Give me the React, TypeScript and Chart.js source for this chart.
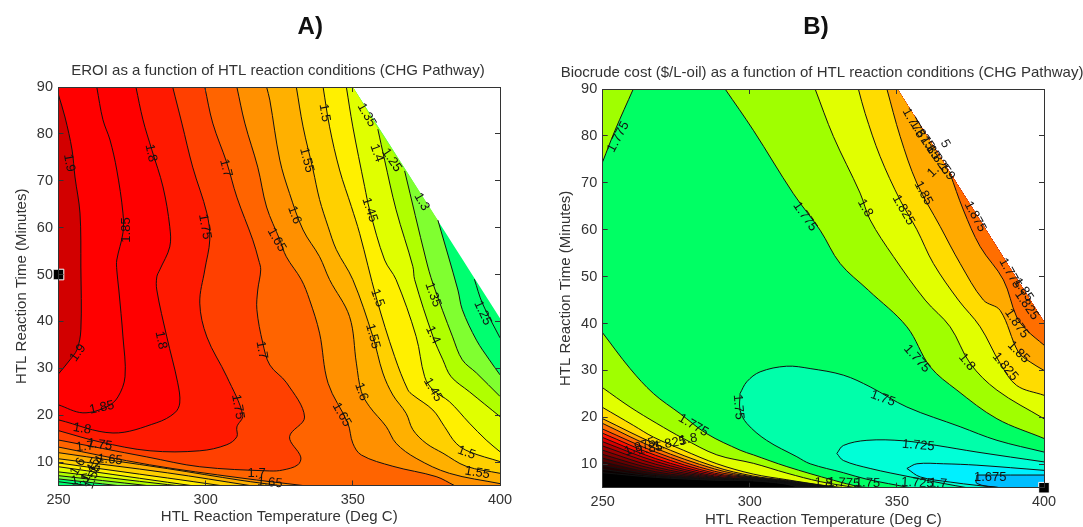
import React, { useEffect, useRef } from "react";
import { Chart, registerables } from "chart.js";

Chart.register(...registerables);

type P = number[];
type Label = [string, number, number, number];

const X_TICKS = [250, 300, 350, 400];
const Y_TICKS = [10, 20, 30, 40, 50, 60, 70, 80, 90];
const X_TITLE = "HTL Reaction Temperature (Deg C)";
const Y_TITLE = "HTL Reaction Time (Minutes)";

/* ---------- Panel A: EROI ---------- */
const A_DOMAIN: P[] = [[250, 90], [350, 90], [400, 40.7], [400, 5], [250, 5]];

const A_190: P[] = [[250, 88.3], [252.2, 83.6], [254.6, 76.6], [255.6, 70.8], [257.3, 63.1], [257.6, 51.6], [257.6, 38.2], [256.3, 34], [253.9, 31.8], [250, 28.8]];
const A_185: P[] = [[263, 90], [265.1, 83], [267.5, 78.7], [269.8, 72.3], [271.9, 63.1], [271.9, 58.9], [269.8, 53.1], [269.8, 51], [270.5, 46.7], [271.9, 36.7], [272.6, 28.2], [270.2, 23.9], [266.5, 21.8], [258.3, 20.5], [250, 22.2]];
const A_180: P[] = [[276.3, 90], [278.7, 83], [281.7, 76.6], [285.5, 68.7], [287.8, 60.2], [287.8, 55.9], [284.4, 51], [283.4, 49.5], [283.4, 46.7], [286.8, 36.7], [290.5, 26.9], [291.2, 22.6], [289.5, 20.5], [283.4, 18.4], [268.5, 16.2], [250, 19]];
const A_175: P[] = [[288.8, 90], [291.9, 82.3], [295.6, 72.9], [300.4, 63.1], [301.4, 57.4], [299.7, 51], [298, 43.9], [300.4, 36.7], [307.2, 28.2], [312.6, 20], [310.6, 17.5], [310.6, 15.4], [307.2, 13.7], [298, 12.4], [281.1, 12.4], [264, 14.3], [250, 16.7]];
const A_170: P[] = [[299.7, 90], [302.4, 82.3], [307.2, 73.8], [310.6, 66.5], [316, 57.4], [318, 53.1], [318.7, 51], [317.7, 46.7], [317.4, 42.5], [319.4, 35.4], [321.8, 30.7], [327.5, 26.9], [333.6, 19.6], [328.5, 15.4], [332.3, 11.1], [331.3, 9.4], [326.2, 8.3], [321.8, 8.1], [298, 9], [280, 11.1], [250, 14.7]];
const A_165: P[] = [[310.6, 90], [313.3, 82.3], [317.7, 72.9], [320.7, 64.4], [325.2, 57.4], [327.4, 53.8], [332.5, 48.9], [335.3, 44.6], [338.7, 37.5], [341.6, 26.8], [348.3, 18.3], [350, 14], [352.9, 11.5], [363.6, 9.1], [378.3, 6.9], [384.5, 5]];
const A_160: P[] = [[320.7, 90], [321.8, 87.2], [325.2, 74.4], [328.5, 67.3], [333.1, 59.5], [338.7, 53.8], [342.1, 48.9], [348.9, 41], [351.2, 31.1], [352.9, 25], [355.7, 21.8], [361.3, 17.6], [364.7, 14], [371.5, 10.8], [382.8, 7.6], [400, 5.4]];
const A_155: P[] = [[330.8, 90], [333.1, 81.5], [336.5, 72.3], [338.7, 66], [341.6, 60.2], [344.4, 55.3], [350, 48.9], [356.8, 36.8], [360.2, 29], [363.6, 24.3], [368.1, 20.4], [370.4, 16.9], [374.9, 14], [380.6, 11.9], [388.5, 9.1], [400, 7.6]];
const A_150: P[] = [[339.9, 90], [342.1, 81.5], [345.5, 72.3], [349.5, 64.5], [352.3, 58.8], [358, 45], [364.2, 32.5], [368.7, 25.4], [370.4, 24.3], [377.2, 21.1], [381.1, 17.6], [385.1, 14], [389.6, 12.2], [400, 10.1]];
const A_145: P[] = [[347.8, 90], [350, 81.5], [354, 68.8], [355.7, 63.8], [360.8, 53.1], [364.7, 48.9], [371.5, 36.8], [374.4, 28.2], [377.2, 25.4], [382.8, 22.9], [389.6, 18.3], [395.3, 14.7], [400, 12.2]];
const A_140: P[] = [[358.5, 81], [360.8, 74.4], [364.7, 63.8], [370.4, 51.7], [371, 48.9], [377.2, 36.8], [380.6, 31.8], [383.4, 28.2], [389.6, 25], [400, 19.7]];
const A_135: P[] = [[367.6, 72.1], [374.9, 53.1], [377.2, 48.1], [383.9, 36.7], [387.2, 31.8], [392, 29], [400, 24]];
const A_130: P[] = [[378.9, 61.6], [385.7, 46.7], [387.2, 42.5], [392, 36], [396.4, 31.8], [400, 28.6]];
const A_125: P[] = [[391.3, 49], [394, 43.9], [400, 36.5]];

const A_165_LOW: P[] = [[250, 13.2], [281, 9.4], [312, 6.6], [333, 5]];
const A_160_LOW: P[] = [[250, 12], [287, 8.6], [312, 6.1], [325, 5]];
const A_155_LOW: P[] = [[250, 10.7], [287, 7.7], [315, 5]];
const A_150_LOW: P[] = [[250, 9.8], [287, 6.6], [305, 5]];
const A_145_LOW: P[] = [[250, 9], [287, 5.7], [295, 5]];
const A_140_LOW: P[] = [[250, 7.9], [287, 5.2], [290, 5]];
const A_135_LOW: P[] = [[250, 7.1], [280, 5]];
const A_130_LOW: P[] = [[250, 6.4], [270, 5]];
const A_125_LOW: P[] = [[250, 5.8], [260, 5]];

const A_LABELS: Label[] = [
  ["1.9", 253.6, 73.8, 80], ["1.85", 273.2, 59.5, -90], ["1.8", 281.4, 75.9, 78], ["1.7", 306.8, 72.7, 75],
  ["1.75", 299.7, 60.2, 80], ["1.65", 324.1, 57.4, 60], ["1.6", 330.2, 62.7, 70], ["1.55", 334.3, 74.4, 75],
  ["1.5", 340.4, 84.5, 80], ["1.35", 354.7, 84, 60], ["1.4", 358.1, 75.9, 70], ["1.25", 363.2, 74.4, 55],
  ["1.3", 373.4, 65.5, 60], ["1.45", 355.7, 63.8, 72], ["1.9", 256.6, 33.3, -55], ["1.85", 264.7, 21.6, -12],
  ["1.8", 284.8, 36, 78], ["1.8", 258, 17.1, 10], ["1.75", 310.9, 21.8, 80], ["1.7", 319, 33.9, 80],
  ["1.75", 264, 13.7, 8], ["1.7", 259, 13.3, -5], ["1.7", 317.3, 7.5, 0], ["1.65", 321.8, 5.6, 5],
  ["1.65", 346.2, 20.1, 60], ["1.6", 352.9, 25, 70], ["1.55", 356.8, 36.8, 75], ["1.5", 358.4, 45, 70],
  ["1.45", 377.2, 25.4, 60], ["1.4", 377.2, 37.1, 65], ["1.35", 377.2, 45.7, 70], ["1.25", 394.1, 41.8, 65],
  ["1.5", 388.6, 12, 20], ["1.55", 392.3, 7.7, 10], ["1.65", 267.5, 10.5, 5], ["1.6", 256.6, 9, -60],
  ["1.55", 261.7, 6.9, -70], ["1.5", 257.3, 6.2, -10], ["1.45", 260.9, 8.3, -60], ["1.4", 263, 9.4, -60],
];

/* ---------- Panel B: biocrude cost ---------- */
const B_DOMAIN: P[] = [[250, 90], [350.2, 90], [400, 40.4], [400, 5], [250, 5]];
const B_DIAG: P[] = [[350.2, 90], [400, 40.4]];

const B_1775_CORNER: P[] = [[250, 74.5], [254.2, 81.2], [260.4, 90]];
const B_1775: P[] = [[291.6, 90], [301.2, 81.2], [314.8, 67.7], [323.9, 59.9], [330.7, 52.8], [340.3, 47.1], [353.4, 39.3], [361.3, 30.8], [370.4, 25.8], [384, 19.7], [400, 15.5]];
const B_1800: P[] = [[322.2, 90], [328.4, 79.9], [337.5, 67.8], [340.9, 62.1], [348.8, 54.3], [359.6, 45], [368.1, 39.3], [374.9, 31.5], [384, 25.8], [400, 19.7]];
const B_1825: P[] = [[336.9, 90], [339.2, 84.8], [344.3, 75.6], [351.1, 66.3], [356.8, 60], [362.4, 52.8], [370.9, 45], [378.3, 39.3], [385.1, 31.5], [390.7, 26.8], [400, 24.7]];
const B_1850: P[] = [[346.6, 90], [351.1, 79.9], [356.8, 69.9], [364.7, 60.7], [371.5, 52.8], [379.4, 45], [385.1, 42.8], [391.3, 33.9], [395.3, 31.8], [400, 30]];
const B_1875: P[] = [[368, 72.1], [372.6, 64.2], [378.3, 56.4], [386.2, 49.3], [390.7, 41.4], [394.1, 38.6], [400, 35.4]];

const B_1775_LOW: P[] = [[250, 38], [259.3, 30.4], [267.2, 25.1], [276.3, 20.8], [285.4, 16.5], [296.7, 13], [301.2, 12], [312.6, 9.5], [328.4, 6.6], [337.5, 5.2], [342, 5]];
const B_1800_LOW: P[] = [[250, 26.3], [259.3, 22.2], [268.4, 18.7], [277.4, 15.5], [288.8, 12], [301.2, 10.2], [312.6, 8.1], [323.9, 6.3], [336, 5]];
const B_1825_LOW: P[] = [[250, 22.1], [260.4, 18.3], [267.2, 15.8], [277.4, 13], [288.8, 10.1], [301.2, 7.9], [312.6, 6.7], [325, 5.5], [332, 5]];
const B_1850_LOW: P[] = [[250, 19.7], [268, 14.3], [288, 9.5], [301, 7.5], [312, 6.6], [330, 5]];
const B_1875_LOW: P[] = [[250, 18.7], [268, 13.4], [288, 9], [301, 7.3], [312, 6.5], [329, 5]];
const B_1900_LOW: P[] = [[250, 17.5], [268, 12.6], [288, 8.5], [301, 7.2], [312, 6.4], [328, 5]];
const B_1925_LOW: P[] = [[250, 16.6], [268, 11.9], [288, 8.1], [301, 7.1], [312, 6.3], [327, 5]];
const B_1950_LOW: P[] = [[250, 15.7], [268, 11.2], [288, 7.8], [301, 7], [312, 6.25], [326, 5]];
const B_1975_LOW: P[] = [[250, 14.8], [268, 10.6], [288, 7.5], [301, 6.9], [312, 6.2], [325, 5]];
const B_2000_LOW: P[] = [[250, 13.9], [268, 10], [288, 7.3], [301, 6.8], [312, 6.15], [324, 5]];
const B_2025_LOW: P[] = [[250, 13], [268, 9.4], [288, 7.15], [301, 6.75], [312, 6.1], [323, 5]];
const B_2050_LOW: P[] = [[250, 12.1], [268, 8.9], [288, 7], [301, 6.7], [312, 6.05], [322, 5]];
const B_2075_LOW: P[] = [[250, 11.3], [268, 8.4], [288, 6.9], [301, 6.65], [312, 6], [321, 5]];
const B_2100_LOW: P[] = [[250, 10.5], [268, 8], [288, 6.8], [301, 6.6], [312, 5.95], [320, 5]];
const B_2125_LOW: P[] = [[250, 9.7], [268, 7.7], [288, 6.7], [301, 6.55], [312, 5.9], [319, 5]];
const B_2150_LOW: P[] = [[250, 8.9], [268, 7.4], [288, 6.65], [301, 6.5], [312, 5.85], [318, 5]];
const B_2175_LOW: P[] = [[250, 8.2], [268, 7.2], [288, 6.6], [301, 6.45], [312, 5.8], [317, 5]];

const B_1750: P[] = [[296.7, 25.1], [299, 27.6], [303.5, 29.7], [312.5, 30.9], [320.5, 30.4], [331.8, 29], [340.9, 26.5], [353.4, 22.2], [371.5, 18], [384, 15.1], [400, 12.6]];
const B_1750_LOW: P[] = [[296.7, 25.1], [296.7, 21.5], [299, 18.7], [305.7, 15.1], [316, 11.6], [320.5, 10.1], [331.8, 8.2], [339.8, 6.8], [354.5, 5]];
const B_1725: P[] = [[329.6, 12.3], [331.8, 14], [339.8, 15.1], [352.2, 15], [363.6, 14], [377.2, 12.6], [400, 10.5]];
const B_1725_LOW: P[] = [[329.6, 12.3], [331.8, 10.8], [340.9, 9.1], [354.5, 7.3], [365.8, 5.9], [373.8, 5]];
const B_1700: P[] = [[353.4, 9.1], [356.8, 10.1], [365.8, 10.1], [377.2, 9.8], [400, 8.7]];
const B_1700_LOW: P[] = [[353.4, 9.1], [357.9, 7.3], [368.1, 6.2], [377.2, 5.5], [385.1, 5]];
const B_1675: P[] = [[377.2, 7.7], [400, 7.7]];
const B_1675_LOW: P[] = [[377.2, 7.7], [377.2, 5.9], [385.1, 5]];

const B_LABELS: Label[] = [
  ["1.775", 255.3, 79.8, -62], ["1.775", 318.8, 62.8, 55], ["1.8", 339.2, 64.6, 60], ["1.825", 352.2, 64.2, 60],
  ["1.85", 359, 67.8, 62], ["1.875", 376.6, 62.8, 62], ["1.775", 355.6, 82.7, 60], ["1.875", 358.5, 80.2, 55],
  ["1.85", 361.3, 77.4, 55], ["1.825", 364.1, 74.9, 55], ["1.9", 367, 72.4, 55], ["5", 366.4, 78.3, 60],
  ["1.", 362.4, 72.4, -45], ["1.775", 388.5, 50.7, 60], ["1.85", 393, 47.2, 55], ["1.825", 394.1, 43.9, 55],
  ["1.875", 390.7, 40, 55], ["1.85", 391.3, 33.9, 45], ["1.825", 386.8, 30.8, 50], ["1.8", 373.8, 31.8, 50],
  ["1.775", 356.8, 32.5, 48], ["1.75", 345.2, 24, 20], ["1.725", 357.3, 14, 5], ["1.675", 381.7, 7.1, 0],
  ["1.75", 296.1, 22.2, 85], ["1.775", 280.8, 18.3, 30], ["1.8", 279.1, 15.3, -10], ["1.825", 272.9, 14.4, -10],
  ["1.85", 266.1, 13.3, -10], ["1.875", 262.7, 13.7, -20], ["1.725", 357, 6, 3], ["1.7", 364, 5.9, 3],
  ["1.75", 340, 6, 3], ["1.775", 332, 6, 3], ["1.8", 325, 6, 3],
];

type Band = { line: P[]; low?: P[]; color: string; cornerTR?: P[] };

const TL: P = [250, 90];
const BR: P = [400, 5];
const TENSION = 0.35;
const rev = (a: P[]) => [...a].reverse();
const pts = (a: P[]) => a.map(([x, y]) => ({ x, y }));
/* doubling a run's end points keeps the joins between runs straight, so a fill follows its stroke */
const run = (a: P[]) => [a[0], ...a, a[a.length - 1]];

const A_BANDS: Band[] = [
  { line: A_130, low: A_130_LOW, color: "rgb(128,255,48)", cornerTR: [[350, 90]] },
  { line: A_135, low: A_135_LOW, color: "rgb(176,255,0)", cornerTR: [[350, 90]] },
  { line: A_140, low: A_140_LOW, color: "rgb(224,255,0)", cornerTR: [[350, 90]] },
  { line: A_145, low: A_145_LOW, color: "rgb(255,240,0)" },
  { line: A_150, low: A_150_LOW, color: "rgb(255,208,0)" },
  { line: A_155, low: A_155_LOW, color: "rgb(255,176,0)" },
  { line: A_160, low: A_160_LOW, color: "rgb(255,144,0)" },
  { line: A_165, low: A_165_LOW, color: "rgb(255,100,0)" },
  { line: A_170, color: "rgb(255,64,0)" },
  { line: A_175, color: "rgb(255,25,0)" },
  { line: A_180, color: "rgb(255,0,0)" },
  { line: A_185, color: "rgb(255,0,0)" },
  { line: A_190, color: "rgb(210,0,0)" },
];

const lineDs = (a: P[]) => ({
  data: pts(a), borderColor: "#111", borderWidth: 1, pointRadius: 0, fill: false, tension: TENSION,
});
const fillDs = (a: P[], color: string) => ({
  data: pts(a), borderWidth: 0, borderColor: color, backgroundColor: color, pointRadius: 0, fill: "shape", tension: TENSION,
});
const markerDs = (p: P) => ({
  data: pts([p]), showLine: false, pointStyle: "rect", pointRadius: 7.5, pointBackgroundColor: "#000",
  pointBorderColor: "#fff", pointBorderWidth: 1, clip: false,
});

function datasetsA() {
  const list: any[] = [fillDs(A_DOMAIN.flatMap((c) => [c, c]), "rgb(0,255,112)")];
  A_BANDS.forEach((b) => {
    const poly = [
      TL, TL,
      ...(b.cornerTR ? run(b.cornerTR) : []),
      ...run(b.line),
      ...(b.low ? [BR, BR, ...run(rev(b.low))] : []),
    ];
    list.push(fillDs(poly, b.color));
  });
  A_BANDS.forEach((b) => {
    list.push(lineDs(b.line));
    if (b.low) list.push(lineDs(b.low));
  });
  list.push(lineDs(A_125), lineDs(A_125_LOW));
  list.push(markerDs([250, 50]));
  return list.reverse();
}

function datasetsB() {
  const list: any[] = [fillDs(B_DOMAIN.flatMap((c) => [c, c]), "rgb(0,0,0)")];
  const lows: [P[], string][] = [
    [B_2175_LOW, "rgb(10,0,0)"], [B_2150_LOW, "rgb(30,0,0)"], [B_2125_LOW, "rgb(55,0,0)"], [B_2100_LOW, "rgb(80,0,0)"],
    [B_2075_LOW, "rgb(105,0,0)"], [B_2050_LOW, "rgb(130,0,0)"], [B_2025_LOW, "rgb(155,0,0)"], [B_2000_LOW, "rgb(180,0,0)"],
    [B_1975_LOW, "rgb(215,0,0)"], [B_1950_LOW, "rgb(255,15,0)"], [B_1925_LOW, "rgb(255,60,0)"], [B_1900_LOW, "rgb(255,110,0)"],
  ];
  lows.forEach(([low, c]) => list.push(fillDs([TL, TL, ...run([B_DIAG[0]]), ...run([B_DIAG[1]]), BR, BR, ...run(rev(low))], c)));
  const band = (head: P[], line: P[], low: P[], c: string) =>
    list.push(fillDs([...head, ...run(line), BR, BR, ...run(rev(low))], c));
  band([TL, TL, B_DIAG[0], B_DIAG[0]], B_1875, B_1875_LOW, "rgb(255,170,0)");
  band([TL, TL], B_1850, B_1850_LOW, "rgb(255,220,0)");
  band([TL, TL], B_1825, B_1825_LOW, "rgb(225,255,0)");
  band([TL, TL], B_1800, B_1800_LOW, "rgb(160,255,0)");
  band(run(B_1775_CORNER), B_1775, B_1775_LOW, "rgb(0,255,100)");
  band([], B_1750, B_1750_LOW, "rgb(0,255,170)");
  band([], B_1725, B_1725_LOW, "rgb(0,255,215)");
  band([], B_1700, B_1700_LOW, "rgb(0,240,255)");
  band([], B_1675, B_1675_LOW, "rgb(0,190,255)");
  [B_1775_CORNER, B_1775, B_1800, B_1825, B_1850, B_1875, B_1750, B_1725, B_1700, B_1675,
    B_1750_LOW, B_1725_LOW, B_1700_LOW, B_1675_LOW, B_1775_LOW, B_1800_LOW, B_1825_LOW, B_1850_LOW, B_1875_LOW,
    B_1900_LOW, B_1925_LOW, B_1950_LOW, B_1975_LOW, B_2000_LOW, B_2025_LOW, B_2050_LOW, B_2075_LOW, B_2100_LOW,
    B_2125_LOW, B_2150_LOW, B_2175_LOW].forEach((a) => list.push(lineDs(a)));
  list.push(markerDs([400, 5]));
  return list.reverse();
}

const FONT = "'Liberation Sans', Arial, sans-serif";
const INK = "#333";

const labelPlugin = (labels: Label[], heading: string) => ({
  id: "contourLabels",
  afterDatasetsDraw(chart: any) {
    const { ctx, scales, chartArea } = chart;
    ctx.save();
    ctx.font = `13px ${FONT}`;
    ctx.fillStyle = "#111";
    ctx.textAlign = "center";
    ctx.textBaseline = "middle";
    labels.forEach(([text, x, y, rot]) => {
      ctx.save();
      ctx.translate(scales.x.getPixelForValue(x), scales.y.getPixelForValue(y));
      ctx.rotate((rot * Math.PI) / 180);
      ctx.fillText(text, 0, 0);
      ctx.restore();
    });
    ctx.font = `15px ${FONT}`;
    ctx.fillStyle = INK;
    ctx.fillText(heading, (chartArea.left + chartArea.right) / 2 - 1.3, chartArea.top - 16.5);
    ctx.restore();
  },
});

type PanelProps = {
  letter: string; title: string; left: number; width: number; datasets: any[]; labels: Label[];
  padL: number; rightGap: number; padR: number; titleGap: number; xHeight: number; xTitleBottom: number;
};

function Panel(p: PanelProps) {
  const ref = useRef<HTMLCanvasElement>(null);
  useEffect(() => {
    const grid = { z: 1, drawOnChartArea: false, drawTicks: true, tickLength: -5, color: INK, lineWidth: 1 };
    const border = { z: 2, color: INK, width: 1, display: true };
    const chart = new Chart(ref.current as HTMLCanvasElement, {
      type: "line",
      data: { datasets: p.datasets },
      plugins: [labelPlugin(p.labels, p.title)],
      options: {
        responsive: false,
        animation: false,
        parsing: { xAxisKey: "x", yAxisKey: "y" },
        layout: { padding: { left: p.padL, right: p.padR, top: 0, bottom: 0 } },
        plugins: {
          legend: { display: false },
          tooltip: { enabled: false },
          title: {
            display: true, text: p.letter, color: "#111",
            font: { family: FONT, size: 24, weight: "bold", lineHeight: 1.2 },
            padding: { top: 13, bottom: p.titleGap },
          },
        },
        scales: {
          x: {
            type: "linear", position: "bottom", min: 250, max: 400, grid, border,
            afterBuildTicks: (s: any) => { s.ticks = X_TICKS.map((value) => ({ value })); },
            afterFit: (s: any) => { s.height = p.xHeight; },
            ticks: { color: INK, font: { family: FONT, size: 14.5 }, padding: 10.5, maxRotation: 0, autoSkip: false },
            title: { display: true, text: X_TITLE, color: INK, font: { family: FONT, size: 15, lineHeight: 1.2 }, padding: { top: 0, bottom: p.xTitleBottom } },
          },
          y: {
            type: "linear", position: "left", min: 5, max: 90, grid, border,
            afterBuildTicks: (s: any) => { s.ticks = Y_TICKS.map((value) => ({ value })); },
            afterFit: (s: any) => { s.width = 46; },
            ticks: { color: INK, font: { family: FONT, size: 14.5 }, padding: 10.5, autoSkip: false },
            title: { display: true, text: Y_TITLE, color: INK, font: { family: FONT, size: 15, lineHeight: 1.2 }, padding: { top: 0, bottom: 0 } },
          },
          xTop: {
            type: "linear", axis: "x", position: "top", min: 250, max: 400, grid, border,
            afterBuildTicks: (s: any) => { s.ticks = X_TICKS.map((value) => ({ value })); },
            afterFit: (s: any) => { s.height = 0; },
            ticks: { display: false },
          },
          yRight: {
            type: "linear", axis: "y", position: "right", min: 5, max: 90, grid, border,
            afterBuildTicks: (s: any) => { s.ticks = Y_TICKS.map((value) => ({ value })); },
            afterFit: (s: any) => { s.width = p.rightGap; },
            ticks: { display: false },
          },
        },
      } as any,
    } as any);
    return () => chart.destroy();
  }, []);
  return (
    <canvas
      ref={ref}
      width={p.width}
      height={527}
      style={{ position: "absolute", left: p.left, top: 0, display: "block" }}
    />
  );
}

export default function App() {
  return (
    <div style={{ position: "absolute", left: 0, top: 0, width: 1083, height: 527, overflow: "hidden", background: "#fff" }}>
      <Panel
        letter="A)"
        title="EROI as a function of HTL reaction conditions (CHG Pathway)"
        left={0} width={608} datasets={datasetsA()} labels={A_LABELS}
        padL={12.5} padR={0} rightGap={108} titleGap={45.2} xHeight={41.5} xTitleBottom={1}
      />
      <Panel
        letter="B)"
        title="Biocrude cost ($/L-oil) as a function of HTL reaction conditions (CHG Pathway)"
        left={549} width={534} datasets={datasetsB()} labels={B_LABELS}
        padL={7.7} padR={7.7} rightGap={31.3} titleGap={47.2} xHeight={39.3} xTitleBottom={-2}
      />
    </div>
  );
}
